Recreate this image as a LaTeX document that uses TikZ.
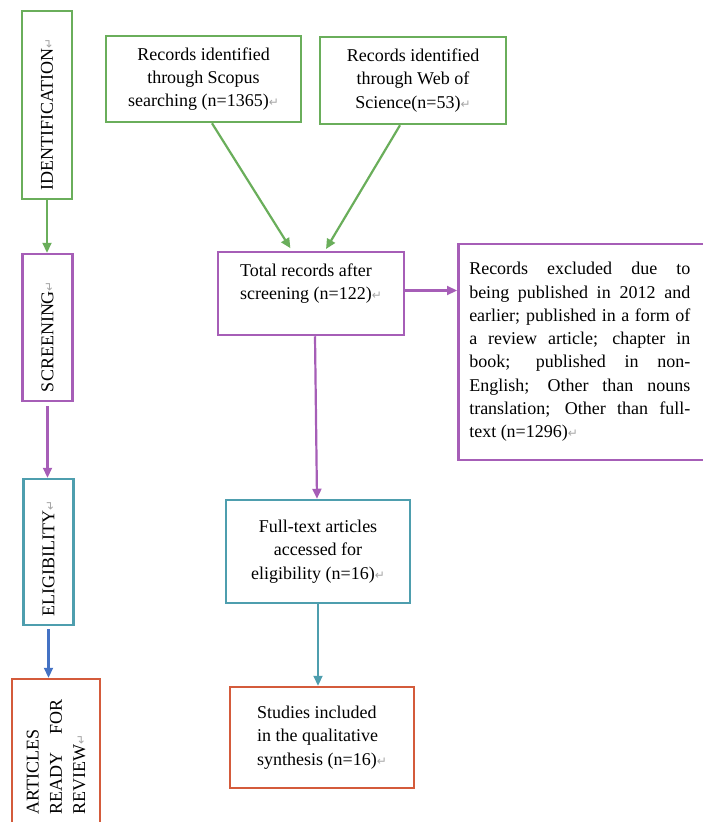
\documentclass[tikz,border=0pt]{standalone}
\usepackage{fontspec}
\setmainfont{Liberation Serif}
\newfontfamily\markfont{DejaVu Sans}
\usetikzlibrary{arrows.meta}
\definecolor{cgreen}{HTML}{6AAE5B}
\definecolor{cpurple}{HTML}{A65EB7}
\definecolor{cteal}{HTML}{4E9EAE}
\definecolor{corange}{HTML}{D45B3B}
\definecolor{cblue}{HTML}{4472C4}
\newcommand{\pmark}{{\markfont\fontsize{12}{12}\selectfont\color{black!35}↵}}
\begin{document}
\begin{tikzpicture}[x=1pt,y=1pt,
  b/.style={rectangle,draw,line width=2.5pt,text=black,inner sep=0pt,font=\fontsize{18}{23.3}\selectfont},
  cb/.style={b,align=center},
  lb/.style={b,align=left},
  vb/.style={b,rotate=90,align=left,inner xsep=9pt,minimum height=50pt},
  e/.style={line width=2.2pt,-{Triangle[width=9pt,length=10pt]}}]
\useasboundingbox (0,0) rectangle (702,-822);
% stages
\node[vb,draw=cgreen,text width=170pt] (id) at (47,-105) {IDENTIFICATION\pmark};
\node[vb,draw=cpurple,text width=129pt] (scr) at (47.5,-327.5) {SCREENING\pmark};
\node[vb,draw=cteal,text width=128pt] (eli) at (48.5,-552) {ELIGIBILITY\pmark};
\node[vb,draw=corange,text width=115pt,inner xsep=20.5pt,minimum height=88pt] (art) at (56,-757) {ARTICLES\\READY\hfill FOR\\REVIEW\pmark};
% records
\node[cb,draw=cgreen,minimum width=195pt,minimum height=86pt] (scopus) at (203.5,-79) {Records identified\\through Scopus\\searching (n=1365)\pmark};
\node[cb,draw=cgreen,minimum width=186pt,minimum height=87pt] (wos) at (413,-80.5) {Records identified\\through Web of\\Science(n=53)\pmark};
\node[lb,draw=cpurple,minimum width=186pt,minimum height=83pt] (total) at (311,-293.5) {Total records after\\screening (n=122)\pmark\\\mbox{}};
\node[b,draw=cpurple,inner xsep=11pt,minimum height=216pt,anchor=west] (excl) at (457,-352) {\parbox{221pt}{Records excluded due to\linebreak being published in 2012 and\linebreak earlier; published in a form of\linebreak a review article; chapter in\linebreak book; published in non-\linebreak English; Other than nouns\linebreak translation; Other than full-\linebreak text (n=1296)\pmark}\hspace*{30pt}};
\node[cb,draw=cteal,minimum width=184pt,minimum height=103pt] (full) at (318,-551.5) {Full-text articles\\accessed for\\eligibility (n=16)\pmark};
\node[lb,draw=corange,minimum width=184pt,minimum height=101pt] (study) at (322,-737.5) {Studies included\\in the qualitative\\synthesis (n=16)\pmark};
% arrows
\draw[e,cgreen] (id.west) -- (id.west |- scr.east);
\draw[e,cpurple,shorten <=4pt] (scr.west) -- (scr.west |- eli.east);
\draw[e,cblue,shorten <=3pt] (eli.west) -- (eli.west |- art.east);
\draw[e,cgreen,shorten >=3pt] ([xshift=8.5pt]scopus.south) -- ([xshift=-19pt]total.north);
\draw[e,cgreen,shorten >=2pt] ([xshift=-13pt]wos.south) -- ([xshift=14pt]total.north);
\draw[e,cpurple] ([yshift=3pt]total.east) -- ([yshift=3pt]total.east -| excl.west);
\draw[e,cpurple] ([xshift=4pt]total.south) -- ([xshift=-1pt]full.north);
\draw[e,cteal] (full.south) -- (full.south |- study.north);
\end{tikzpicture}
\end{document}
